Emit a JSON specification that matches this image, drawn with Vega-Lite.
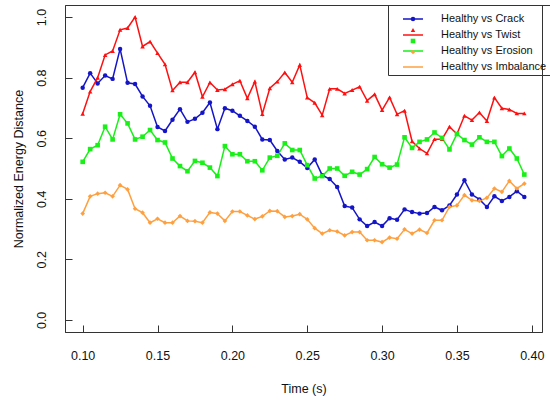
{
  "$schema": "https://vega.github.io/schema/vega-lite/v6.json",
  "width": 477,
  "height": 327,
  "autosize": {"type": "none"},
  "padding": {"left": 65, "top": 5, "right": 8, "bottom": 68},
  "background": "white",
  "config": {
    "font": "Liberation Sans",
    "view": {"stroke": "#333333", "strokeWidth": 1},
    "axis": {"grid": false, "domainColor": "#333333", "tickColor": "#333333", "labelColor": "#111111", "titleColor": "#111111", "labelFontSize": 12.5, "titleFontSize": 12.5, "titleFontWeight": "normal", "tickSize": -7, "labelFlush": false, "labelOverlap": false}
  },
  "data": {"values": [
    {"t":0.100,"s":"Healthy vs Crack","v":0.767},{"t":0.105,"s":"Healthy vs Crack","v":0.815},{"t":0.110,"s":"Healthy vs Crack","v":0.781},{"t":0.115,"s":"Healthy vs Crack","v":0.807},{"t":0.120,"s":"Healthy vs Crack","v":0.796},{"t":0.125,"s":"Healthy vs Crack","v":0.895},{"t":0.130,"s":"Healthy vs Crack","v":0.783},{"t":0.135,"s":"Healthy vs Crack","v":0.779},{"t":0.140,"s":"Healthy vs Crack","v":0.738},{"t":0.145,"s":"Healthy vs Crack","v":0.707},
    {"t":0.150,"s":"Healthy vs Crack","v":0.637},{"t":0.155,"s":"Healthy vs Crack","v":0.624},{"t":0.160,"s":"Healthy vs Crack","v":0.661},{"t":0.165,"s":"Healthy vs Crack","v":0.696},{"t":0.170,"s":"Healthy vs Crack","v":0.654},{"t":0.175,"s":"Healthy vs Crack","v":0.664},{"t":0.180,"s":"Healthy vs Crack","v":0.684},{"t":0.185,"s":"Healthy vs Crack","v":0.718},{"t":0.190,"s":"Healthy vs Crack","v":0.630},{"t":0.195,"s":"Healthy vs Crack","v":0.699},
    {"t":0.200,"s":"Healthy vs Crack","v":0.691},{"t":0.205,"s":"Healthy vs Crack","v":0.674},{"t":0.210,"s":"Healthy vs Crack","v":0.657},{"t":0.215,"s":"Healthy vs Crack","v":0.638},{"t":0.220,"s":"Healthy vs Crack","v":0.596},{"t":0.225,"s":"Healthy vs Crack","v":0.594},{"t":0.230,"s":"Healthy vs Crack","v":0.558},{"t":0.235,"s":"Healthy vs Crack","v":0.530},{"t":0.240,"s":"Healthy vs Crack","v":0.536},{"t":0.245,"s":"Healthy vs Crack","v":0.522},
    {"t":0.250,"s":"Healthy vs Crack","v":0.502},{"t":0.255,"s":"Healthy vs Crack","v":0.530},{"t":0.260,"s":"Healthy vs Crack","v":0.478},{"t":0.265,"s":"Healthy vs Crack","v":0.465},{"t":0.270,"s":"Healthy vs Crack","v":0.439},{"t":0.275,"s":"Healthy vs Crack","v":0.376},{"t":0.280,"s":"Healthy vs Crack","v":0.371},{"t":0.285,"s":"Healthy vs Crack","v":0.332},{"t":0.290,"s":"Healthy vs Crack","v":0.310},{"t":0.295,"s":"Healthy vs Crack","v":0.323},
    {"t":0.300,"s":"Healthy vs Crack","v":0.310},{"t":0.305,"s":"Healthy vs Crack","v":0.336},{"t":0.310,"s":"Healthy vs Crack","v":0.331},{"t":0.315,"s":"Healthy vs Crack","v":0.365},{"t":0.320,"s":"Healthy vs Crack","v":0.356},{"t":0.325,"s":"Healthy vs Crack","v":0.351},{"t":0.330,"s":"Healthy vs Crack","v":0.353},{"t":0.335,"s":"Healthy vs Crack","v":0.373},{"t":0.340,"s":"Healthy vs Crack","v":0.362},{"t":0.345,"s":"Healthy vs Crack","v":0.378},
    {"t":0.350,"s":"Healthy vs Crack","v":0.414},{"t":0.355,"s":"Healthy vs Crack","v":0.461},{"t":0.360,"s":"Healthy vs Crack","v":0.414},{"t":0.365,"s":"Healthy vs Crack","v":0.398},{"t":0.370,"s":"Healthy vs Crack","v":0.373},{"t":0.375,"s":"Healthy vs Crack","v":0.408},{"t":0.380,"s":"Healthy vs Crack","v":0.393},{"t":0.385,"s":"Healthy vs Crack","v":0.406},{"t":0.390,"s":"Healthy vs Crack","v":0.425},{"t":0.395,"s":"Healthy vs Crack","v":0.406},
    {"t":0.100,"s":"Healthy vs Twist","v":0.681},{"t":0.105,"s":"Healthy vs Twist","v":0.754},{"t":0.110,"s":"Healthy vs Twist","v":0.800},{"t":0.115,"s":"Healthy vs Twist","v":0.875},{"t":0.120,"s":"Healthy vs Twist","v":0.888},{"t":0.125,"s":"Healthy vs Twist","v":0.958},{"t":0.130,"s":"Healthy vs Twist","v":0.964},{"t":0.135,"s":"Healthy vs Twist","v":1.000},{"t":0.140,"s":"Healthy vs Twist","v":0.903},{"t":0.145,"s":"Healthy vs Twist","v":0.919},
    {"t":0.150,"s":"Healthy vs Twist","v":0.881},{"t":0.155,"s":"Healthy vs Twist","v":0.844},{"t":0.160,"s":"Healthy vs Twist","v":0.758},{"t":0.165,"s":"Healthy vs Twist","v":0.785},{"t":0.170,"s":"Healthy vs Twist","v":0.785},{"t":0.175,"s":"Healthy vs Twist","v":0.818},{"t":0.180,"s":"Healthy vs Twist","v":0.737},{"t":0.185,"s":"Healthy vs Twist","v":0.784},{"t":0.190,"s":"Healthy vs Twist","v":0.759},{"t":0.195,"s":"Healthy vs Twist","v":0.762},
    {"t":0.200,"s":"Healthy vs Twist","v":0.778},{"t":0.205,"s":"Healthy vs Twist","v":0.790},{"t":0.210,"s":"Healthy vs Twist","v":0.732},{"t":0.215,"s":"Healthy vs Twist","v":0.787},{"t":0.220,"s":"Healthy vs Twist","v":0.680},{"t":0.225,"s":"Healthy vs Twist","v":0.765},{"t":0.230,"s":"Healthy vs Twist","v":0.787},{"t":0.235,"s":"Healthy vs Twist","v":0.817},{"t":0.240,"s":"Healthy vs Twist","v":0.785},{"t":0.245,"s":"Healthy vs Twist","v":0.842},
    {"t":0.250,"s":"Healthy vs Twist","v":0.734},{"t":0.255,"s":"Healthy vs Twist","v":0.717},{"t":0.260,"s":"Healthy vs Twist","v":0.676},{"t":0.265,"s":"Healthy vs Twist","v":0.763},{"t":0.270,"s":"Healthy vs Twist","v":0.763},{"t":0.275,"s":"Healthy vs Twist","v":0.748},{"t":0.280,"s":"Healthy vs Twist","v":0.759},{"t":0.285,"s":"Healthy vs Twist","v":0.770},{"t":0.290,"s":"Healthy vs Twist","v":0.724},{"t":0.295,"s":"Healthy vs Twist","v":0.745},
    {"t":0.300,"s":"Healthy vs Twist","v":0.693},{"t":0.305,"s":"Healthy vs Twist","v":0.735},{"t":0.310,"s":"Healthy vs Twist","v":0.679},{"t":0.315,"s":"Healthy vs Twist","v":0.691},{"t":0.320,"s":"Healthy vs Twist","v":0.590},{"t":0.325,"s":"Healthy vs Twist","v":0.566},{"t":0.330,"s":"Healthy vs Twist","v":0.550},{"t":0.335,"s":"Healthy vs Twist","v":0.597},{"t":0.340,"s":"Healthy vs Twist","v":0.597},{"t":0.345,"s":"Healthy vs Twist","v":0.638},
    {"t":0.350,"s":"Healthy vs Twist","v":0.614},{"t":0.355,"s":"Healthy vs Twist","v":0.674},{"t":0.360,"s":"Healthy vs Twist","v":0.660},{"t":0.365,"s":"Healthy vs Twist","v":0.685},{"t":0.370,"s":"Healthy vs Twist","v":0.657},{"t":0.375,"s":"Healthy vs Twist","v":0.734},{"t":0.380,"s":"Healthy vs Twist","v":0.699},{"t":0.385,"s":"Healthy vs Twist","v":0.695},{"t":0.390,"s":"Healthy vs Twist","v":0.682},{"t":0.395,"s":"Healthy vs Twist","v":0.682},
    {"t":0.100,"s":"Healthy vs Erosion","v":0.522},{"t":0.105,"s":"Healthy vs Erosion","v":0.564},{"t":0.110,"s":"Healthy vs Erosion","v":0.577},{"t":0.115,"s":"Healthy vs Erosion","v":0.638},{"t":0.120,"s":"Healthy vs Erosion","v":0.596},{"t":0.125,"s":"Healthy vs Erosion","v":0.679},{"t":0.130,"s":"Healthy vs Erosion","v":0.649},{"t":0.135,"s":"Healthy vs Erosion","v":0.596},{"t":0.140,"s":"Healthy vs Erosion","v":0.605},{"t":0.145,"s":"Healthy vs Erosion","v":0.627},
    {"t":0.150,"s":"Healthy vs Erosion","v":0.594},{"t":0.155,"s":"Healthy vs Erosion","v":0.586},{"t":0.160,"s":"Healthy vs Erosion","v":0.533},{"t":0.165,"s":"Healthy vs Erosion","v":0.508},{"t":0.170,"s":"Healthy vs Erosion","v":0.491},{"t":0.175,"s":"Healthy vs Erosion","v":0.525},{"t":0.180,"s":"Healthy vs Erosion","v":0.519},{"t":0.185,"s":"Healthy vs Erosion","v":0.503},{"t":0.190,"s":"Healthy vs Erosion","v":0.475},{"t":0.195,"s":"Healthy vs Erosion","v":0.574},
    {"t":0.200,"s":"Healthy vs Erosion","v":0.547},{"t":0.205,"s":"Healthy vs Erosion","v":0.547},{"t":0.210,"s":"Healthy vs Erosion","v":0.524},{"t":0.215,"s":"Healthy vs Erosion","v":0.524},{"t":0.220,"s":"Healthy vs Erosion","v":0.494},{"t":0.225,"s":"Healthy vs Erosion","v":0.536},{"t":0.230,"s":"Healthy vs Erosion","v":0.542},{"t":0.235,"s":"Healthy vs Erosion","v":0.583},{"t":0.240,"s":"Healthy vs Erosion","v":0.561},{"t":0.245,"s":"Healthy vs Erosion","v":0.561},
    {"t":0.250,"s":"Healthy vs Erosion","v":0.511},{"t":0.255,"s":"Healthy vs Erosion","v":0.467},{"t":0.260,"s":"Healthy vs Erosion","v":0.475},{"t":0.265,"s":"Healthy vs Erosion","v":0.500},{"t":0.270,"s":"Healthy vs Erosion","v":0.500},{"t":0.275,"s":"Healthy vs Erosion","v":0.476},{"t":0.280,"s":"Healthy vs Erosion","v":0.489},{"t":0.285,"s":"Healthy vs Erosion","v":0.480},{"t":0.290,"s":"Healthy vs Erosion","v":0.498},{"t":0.295,"s":"Healthy vs Erosion","v":0.538},
    {"t":0.300,"s":"Healthy vs Erosion","v":0.514},{"t":0.305,"s":"Healthy vs Erosion","v":0.503},{"t":0.310,"s":"Healthy vs Erosion","v":0.513},{"t":0.315,"s":"Healthy vs Erosion","v":0.603},{"t":0.320,"s":"Healthy vs Erosion","v":0.568},{"t":0.325,"s":"Healthy vs Erosion","v":0.588},{"t":0.330,"s":"Healthy vs Erosion","v":0.596},{"t":0.335,"s":"Healthy vs Erosion","v":0.619},{"t":0.340,"s":"Healthy vs Erosion","v":0.601},{"t":0.345,"s":"Healthy vs Erosion","v":0.563},
    {"t":0.350,"s":"Healthy vs Erosion","v":0.614},{"t":0.355,"s":"Healthy vs Erosion","v":0.594},{"t":0.360,"s":"Healthy vs Erosion","v":0.579},{"t":0.365,"s":"Healthy vs Erosion","v":0.603},{"t":0.370,"s":"Healthy vs Erosion","v":0.588},{"t":0.375,"s":"Healthy vs Erosion","v":0.588},{"t":0.380,"s":"Healthy vs Erosion","v":0.541},{"t":0.385,"s":"Healthy vs Erosion","v":0.566},{"t":0.390,"s":"Healthy vs Erosion","v":0.533},{"t":0.395,"s":"Healthy vs Erosion","v":0.480},
    {"t":0.100,"s":"Healthy vs Imbalance","v":0.351},{"t":0.105,"s":"Healthy vs Imbalance","v":0.408},{"t":0.110,"s":"Healthy vs Imbalance","v":0.417},{"t":0.115,"s":"Healthy vs Imbalance","v":0.420},{"t":0.120,"s":"Healthy vs Imbalance","v":0.408},{"t":0.125,"s":"Healthy vs Imbalance","v":0.445},{"t":0.130,"s":"Healthy vs Imbalance","v":0.431},{"t":0.135,"s":"Healthy vs Imbalance","v":0.367},{"t":0.140,"s":"Healthy vs Imbalance","v":0.354},{"t":0.145,"s":"Healthy vs Imbalance","v":0.321},
    {"t":0.150,"s":"Healthy vs Imbalance","v":0.334},{"t":0.155,"s":"Healthy vs Imbalance","v":0.321},{"t":0.160,"s":"Healthy vs Imbalance","v":0.321},{"t":0.165,"s":"Healthy vs Imbalance","v":0.343},{"t":0.170,"s":"Healthy vs Imbalance","v":0.327},{"t":0.175,"s":"Healthy vs Imbalance","v":0.326},{"t":0.180,"s":"Healthy vs Imbalance","v":0.321},{"t":0.185,"s":"Healthy vs Imbalance","v":0.355},{"t":0.190,"s":"Healthy vs Imbalance","v":0.351},{"t":0.195,"s":"Healthy vs Imbalance","v":0.327},
    {"t":0.200,"s":"Healthy vs Imbalance","v":0.358},{"t":0.205,"s":"Healthy vs Imbalance","v":0.358},{"t":0.210,"s":"Healthy vs Imbalance","v":0.345},{"t":0.215,"s":"Healthy vs Imbalance","v":0.333},{"t":0.220,"s":"Healthy vs Imbalance","v":0.342},{"t":0.225,"s":"Healthy vs Imbalance","v":0.360},{"t":0.230,"s":"Healthy vs Imbalance","v":0.359},{"t":0.235,"s":"Healthy vs Imbalance","v":0.340},{"t":0.240,"s":"Healthy vs Imbalance","v":0.343},{"t":0.245,"s":"Healthy vs Imbalance","v":0.349},
    {"t":0.250,"s":"Healthy vs Imbalance","v":0.332},{"t":0.255,"s":"Healthy vs Imbalance","v":0.303},{"t":0.260,"s":"Healthy vs Imbalance","v":0.285},{"t":0.265,"s":"Healthy vs Imbalance","v":0.296},{"t":0.270,"s":"Healthy vs Imbalance","v":0.292},{"t":0.275,"s":"Healthy vs Imbalance","v":0.279},{"t":0.280,"s":"Healthy vs Imbalance","v":0.290},{"t":0.285,"s":"Healthy vs Imbalance","v":0.290},{"t":0.290,"s":"Healthy vs Imbalance","v":0.263},{"t":0.295,"s":"Healthy vs Imbalance","v":0.263},
    {"t":0.300,"s":"Healthy vs Imbalance","v":0.257},{"t":0.305,"s":"Healthy vs Imbalance","v":0.272},{"t":0.310,"s":"Healthy vs Imbalance","v":0.268},{"t":0.315,"s":"Healthy vs Imbalance","v":0.299},{"t":0.320,"s":"Healthy vs Imbalance","v":0.285},{"t":0.325,"s":"Healthy vs Imbalance","v":0.298},{"t":0.330,"s":"Healthy vs Imbalance","v":0.287},{"t":0.335,"s":"Healthy vs Imbalance","v":0.329},{"t":0.340,"s":"Healthy vs Imbalance","v":0.329},{"t":0.345,"s":"Healthy vs Imbalance","v":0.373},
    {"t":0.350,"s":"Healthy vs Imbalance","v":0.378},{"t":0.355,"s":"Healthy vs Imbalance","v":0.412},{"t":0.360,"s":"Healthy vs Imbalance","v":0.395},{"t":0.365,"s":"Healthy vs Imbalance","v":0.393},{"t":0.370,"s":"Healthy vs Imbalance","v":0.403},{"t":0.375,"s":"Healthy vs Imbalance","v":0.434},{"t":0.380,"s":"Healthy vs Imbalance","v":0.423},{"t":0.385,"s":"Healthy vs Imbalance","v":0.459},{"t":0.390,"s":"Healthy vs Imbalance","v":0.434},{"t":0.395,"s":"Healthy vs Imbalance","v":0.450}
  ]},
  "encoding": {
    "x": {"field": "t", "type": "quantitative", "title": "Time (s)",
      "scale": {"domain": [0.0882, 0.4068], "nice": false, "zero": false},
      "axis": {"values": [0.10, 0.15, 0.20, 0.25, 0.30, 0.35, 0.40], "format": ".2f", "labelPadding": 24, "titlePadding": 21}},
    "y": {"field": "v", "type": "quantitative", "title": "Normalized Energy Distance",
      "scale": {"domain": [-0.04, 1.04], "nice": false, "zero": false},
      "axis": {"values": [0, 0.2, 0.4, 0.6, 0.8, 1.0], "format": ".1f", "labelAngle": -90, "labelAlign": "center", "labelBaseline": "bottom", "labelPadding": 24, "titlePadding": 10}}
  },
  "layer": [
    {
      "mark": {"type": "line", "strokeWidth": 1.5},
      "encoding": {
        "stroke": {"field": "s", "type": "nominal",
          "sort": ["Healthy vs Crack", "Healthy vs Twist", "Healthy vs Erosion", "Healthy vs Imbalance"],
          "scale": {"range": ["#1515C8", "#FF1010", "#18F018", "#FFA040"]},
          "legend": {
            "title": null, "orient": "none", "legendX": 323, "legendY": 0, "padding": 3,
            "strokeColor": "#333333",
            "labelFontSize": 11, "labelColor": "#111111", "labelLimit": 200,
            "symbolType": "stroke", "symbolSize": 400, "symbolStrokeWidth": 1.5, "symbolOffset": 11,
            "rowPadding": -11, "labelOffset": 17
          }}
      }
    },
    {
      "mark": {"type": "point", "filled": true, "opacity": 1},
      "encoding": {
        "color": {"field": "s", "type": "nominal",
          "scale": {"domain": ["Healthy vs Crack", "Healthy vs Twist", "Healthy vs Erosion", "Healthy vs Imbalance"], "range": ["#1515C8", "#FF1010", "#18F018", "#FFA040"]},
          "legend": {
            "title": null, "orient": "none", "legendX": 323, "legendY": 8.5, "padding": 3,
            "labelFontSize": 1, "labelExpr": "''", "labelColor": "transparent",
            "symbolSize": 25, "symbolOffset": 19.5, "symbolStrokeWidth": 0,
            "rowPadding": 6, "labelOffset": 0
          }},
        "shape": {"field": "s", "type": "nominal",
          "scale": {"domain": ["Healthy vs Crack", "Healthy vs Twist", "Healthy vs Erosion", "Healthy vs Imbalance"], "range": ["circle", "triangle-up", "square", "diamond"]},
          "legend": {
            "title": null, "orient": "none", "legendX": 323, "legendY": 8.5, "padding": 3,
            "labelFontSize": 1, "labelExpr": "''", "labelColor": "transparent",
            "symbolSize": 25, "symbolOffset": 19.5, "symbolStrokeWidth": 0,
            "rowPadding": 6, "labelOffset": 0
          }},
        "size": {"field": "s", "type": "nominal", "legend": null,
          "scale": {"domain": ["Healthy vs Crack", "Healthy vs Twist", "Healthy vs Erosion", "Healthy vs Imbalance"], "range": [20, 22, 16, 10]}}
      }
    }
  ]
}
